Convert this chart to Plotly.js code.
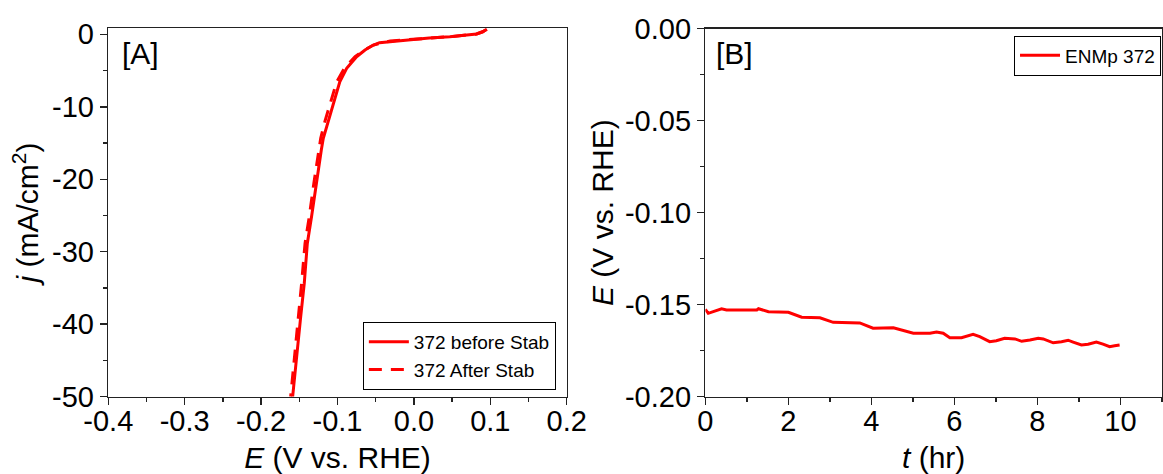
<!DOCTYPE html>
<html>
<head>
<meta charset="utf-8">
<script src="https://cdn.plot.ly/plotly-3.0.1.min.js"></script>
<style>html,body{margin:0;padding:0;background:#fff;}#chart{width:1163px;height:474px;}</style>
</head>
<body>
<div id="chart"></div>
<script>
// Panel A: LSV before / after stability
const E_before = [0.0954, 0.090, 0.082, 0.060, 0.047, 0.020, 0.004, -0.015, -0.031, -0.045, -0.053, -0.064, -0.075, -0.088, -0.097, -0.1055, -0.112, -0.1186, -0.1212, -0.1272, -0.134, -0.1395, -0.1435, -0.1482, -0.1526, -0.157, -0.1587];
const j_before = [0.69, 0.35, 0.04, -0.25, -0.33, -0.50, -0.65, -0.78, -0.92, -1.15, -1.48, -2.17, -3.09, -4.69, -6.54, -9.52, -11.83, -14.35, -15.97, -20.57, -25.17, -28.85, -34.37, -38.98, -43.58, -48.17, -50];
const E_after = [0.0954, 0.090, 0.082, 0.047, 0.004, -0.031, -0.053, -0.065, -0.077, -0.091, -0.101, -0.110, -0.116, -0.122, -0.1245, -0.131, -0.137, -0.1425, -0.147, -0.1515, -0.1555, -0.1595, -0.1613];
const j_after = [0.69, 0.35, 0.04, -0.33, -0.65, -0.92, -1.48, -2.17, -3.09, -4.69, -6.54, -9.52, -11.83, -14.35, -15.97, -20.57, -25.17, -28.85, -34.37, -38.98, -43.58, -48.17, -50];

// Panel B: chronopotentiometry
const t_hr = [0, 0.07, 0.19, 0.39, 0.51, 1.24, 1.28, 1.52, 2.0, 2.32, 2.76, 3.08, 3.72, 4.04, 4.53, 4.69, 5.01, 5.41, 5.57, 5.73, 5.89, 6.17, 6.45, 6.61, 6.85, 7.01, 7.21, 7.46, 7.62, 7.82, 8.02, 8.14, 8.38, 8.58, 8.74, 8.86, 9.06, 9.22, 9.42, 9.58, 9.74, 9.86, 9.98];
const E_t = [-0.1525, -0.1547, -0.1538, -0.1522, -0.1529, -0.1529, -0.1522, -0.1538, -0.1541, -0.1568, -0.1571, -0.1596, -0.1599, -0.1628, -0.1625, -0.1634, -0.1655, -0.1655, -0.1648, -0.1655, -0.1679, -0.1679, -0.1661, -0.1674, -0.1701, -0.1696, -0.1683, -0.1686, -0.1699, -0.1692, -0.1683, -0.1686, -0.1707, -0.1701, -0.1693, -0.1703, -0.1719, -0.1715, -0.1703, -0.1714, -0.1728, -0.1723, -0.1719];

// Tick labels
const xA_vals = [-0.4, -0.3, -0.2, -0.1, 0.0, 0.1, 0.2];
const xA_text = ['-0.4', '-0.3', '-0.2', '-0.1', '0.0', '0.1', '0.2'];
const yA_vals = [0, -10, -20, -30, -40, -50];
const yA_text = ['0', '-10', '-20', '-30', '-40', '-50'];
const xB_vals = [0, 2, 4, 6, 8, 10];
const xB_text = ['0', '2', '4', '6', '8', '10'];
const yB_vals = [0, -0.05, -0.10, -0.15, -0.20];
const yB_text = ['0.00', '-0.05', '-0.10', '-0.15', '-0.20'];

const FONT = 'Liberation Sans, Arial, sans-serif';
const AX = '#222';

function axisBase(extra) {
  return Object.assign({
    showline: true, linecolor: AX, linewidth: 1.5, mirror: true,
    ticks: 'outside', ticklen: 7, tickwidth: 1.5, tickcolor: AX,
    showgrid: false, zeroline: false, tickmode: 'array',
    tickfont: {family: FONT, size: 29, color: '#000'},
  }, extra);
}

const traces = [
  {x: E_before, y: j_before, xaxis: 'x', yaxis: 'y', mode: 'lines', name: '372 before Stab',
   line: {color: '#ff0000', width: 3}, legend: 'legend'},
  {x: E_after, y: j_after, xaxis: 'x', yaxis: 'y', mode: 'lines', name: '372 After Stab',
   line: {color: '#ff0000', width: 3, dash: '13px,9px'}, legend: 'legend'},
  {x: t_hr, y: E_t, xaxis: 'x2', yaxis: 'y2', mode: 'lines', name: 'ENMp 372',
   line: {color: '#ff0000', width: 3}, legend: 'legend2'}
];

const layout = {
  width: 1163, height: 474,
  margin: {l: 0, r: 0, t: 0, b: 0},
  paper_bgcolor: '#fff', plot_bgcolor: '#fff',
  font: {family: FONT, color: '#000'},
  showlegend: true,
  xaxis: axisBase({domain: [0.0931, 0.4873], range: [-0.4, 0.2], anchor: 'y',
    tickvals: xA_vals, ticktext: xA_text, ticklabelstandoff: -9,
    minor: {tickmode: 'linear', tick0: -0.4, dtick: 0.05, ticks: 'outside', ticklen: 4, tickwidth: 1.5, tickcolor: AX},
    title: {text: '<i>E</i> (V vs. RHE)', font: {family: FONT, size: 30}, standoff: 12}}),
  yaxis: axisBase({domain: [0.1631, 0.9403], range: [-50, 0.83], anchor: 'x',
    tickvals: yA_vals, ticktext: yA_text,
    minor: {tickmode: 'linear', tick0: 0, dtick: 5, ticks: 'outside', ticklen: 4, tickwidth: 1.5, tickcolor: AX},
    title: {text: '<i>j</i> (mA/cm<sup>2</sup>)', font: {family: FONT, size: 30}, standoff: 4}}),
  xaxis2: axisBase({domain: [0.6065, 0.9991], range: [0, 11], anchor: 'y2',
    tickvals: xB_vals, ticktext: xB_text, ticklabelstandoff: -9,
    minor: {tickmode: 'linear', tick0: 0, dtick: 1, ticks: 'outside', ticklen: 4, tickwidth: 1.5, tickcolor: AX},
    title: {text: '<i>t</i> (hr)', font: {family: FONT, size: 30}, standoff: 12}}),
  yaxis2: axisBase({domain: [0.1631, 0.9395], range: [-0.2, 0], anchor: 'x2',
    tickvals: yB_vals, ticktext: yB_text,
    minor: {tickmode: 'linear', tick0: 0, dtick: 0.025, ticks: 'outside', ticklen: 4, tickwidth: 1.5, tickcolor: AX},
    title: {text: '<i>E</i> (V vs. RHE)', font: {family: FONT, size: 30}, standoff: 2}}),
  legend: {x: 0.312, y: 1 - 356 / 474, xanchor: 'left', yanchor: 'middle', xref: 'paper', yref: 'paper',
    bgcolor: '#fff', bordercolor: '#000', borderwidth: 1,
    font: {family: FONT, size: 19, color: '#000'}, itemwidth: 40, tracegroupgap: 0},
  legend2: {x: 0.8719, y: 1 - 55.5 / 474, xanchor: 'left', yanchor: 'middle', xref: 'paper', yref: 'paper',
    bgcolor: '#fff', bordercolor: '#000', borderwidth: 1,
    font: {family: FONT, size: 19, color: '#000'}, itemwidth: 40},
  annotations: [
    {text: '[A]', xref: 'paper', yref: 'paper', x: 120 / 1163, y: 1 - 54 / 474, xanchor: 'left', yanchor: 'middle',
     showarrow: false, font: {family: FONT, size: 30, color: '#000'}},
    {text: '[B]', xref: 'paper', yref: 'paper', x: 714 / 1163, y: 1 - 54 / 474, xanchor: 'left', yanchor: 'middle',
     showarrow: false, font: {family: FONT, size: 30, color: '#000'}}
  ]
};

Plotly.newPlot('chart', traces, layout, {displayModeBar: false, staticPlot: true});
</script>
</body>
</html>
